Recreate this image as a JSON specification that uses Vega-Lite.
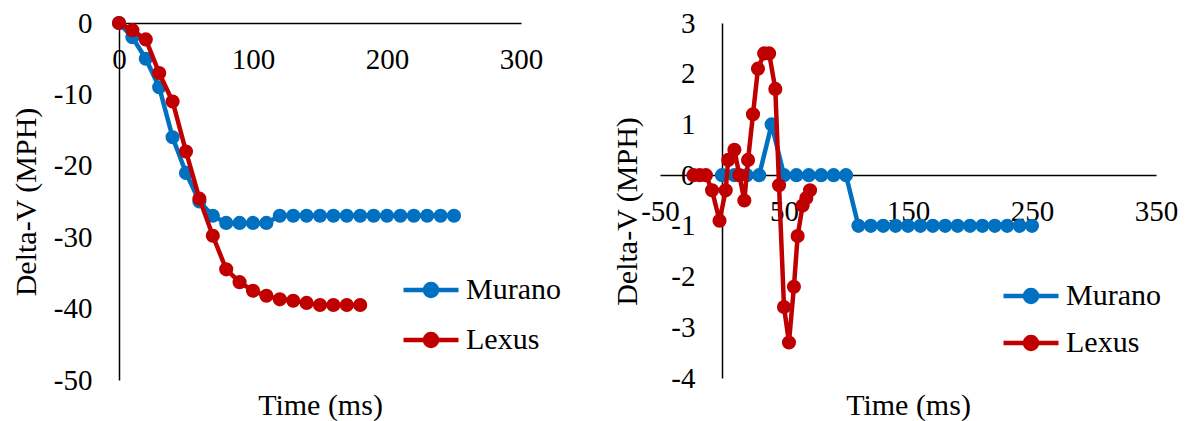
{
  "$schema": "https://vega.github.io/schema/vega-lite/v6.json",
  "background": "white",
  "padding": {"left": 11, "top": 9, "right": 5, "bottom": 5},
  "config": {
    "view": {"stroke": null},
    "font": "Liberation Serif",
    "axis": {
      "grid": false,
      "ticks": false,
      "domainColor": "#000000",
      "domainWidth": 1.5,
      "labelFont": "Liberation Serif",
      "labelFontSize": 29,
      "labelColor": "#000000",
      "labelExpr": "'' + datum.value",
      "titleFont": "Liberation Serif",
      "titleFontSize": 30,
      "titleFontWeight": "normal",
      "titleColor": "#000000",
      "labelOverlap": false,
      "labelFlush": false,
      "labelBound": false
    },
    "legend": {
      "labelFont": "Liberation Serif",
      "labelFontSize": 30,
      "labelColor": "#000000"
    }
  },
  "datasets": {
    "left": [
      {"series": "Murano", "t": 0, "v": 0},
      {"series": "Murano", "t": 10, "v": -2},
      {"series": "Murano", "t": 20, "v": -5},
      {"series": "Murano", "t": 30, "v": -9},
      {"series": "Murano", "t": 40, "v": -16},
      {"series": "Murano", "t": 50, "v": -21},
      {"series": "Murano", "t": 60, "v": -25},
      {"series": "Murano", "t": 70, "v": -27},
      {"series": "Murano", "t": 80, "v": -28},
      {"series": "Murano", "t": 90, "v": -28},
      {"series": "Murano", "t": 100, "v": -28},
      {"series": "Murano", "t": 110, "v": -28},
      {"series": "Murano", "t": 120, "v": -27},
      {"series": "Murano", "t": 130, "v": -27},
      {"series": "Murano", "t": 140, "v": -27},
      {"series": "Murano", "t": 150, "v": -27},
      {"series": "Murano", "t": 160, "v": -27},
      {"series": "Murano", "t": 170, "v": -27},
      {"series": "Murano", "t": 180, "v": -27},
      {"series": "Murano", "t": 190, "v": -27},
      {"series": "Murano", "t": 200, "v": -27},
      {"series": "Murano", "t": 210, "v": -27},
      {"series": "Murano", "t": 220, "v": -27},
      {"series": "Murano", "t": 230, "v": -27},
      {"series": "Murano", "t": 240, "v": -27},
      {"series": "Murano", "t": 250, "v": -27},
      {"series": "Lexus", "t": 0, "v": 0},
      {"series": "Lexus", "t": 10, "v": -1},
      {"series": "Lexus", "t": 20, "v": -2.3},
      {"series": "Lexus", "t": 30, "v": -7},
      {"series": "Lexus", "t": 40, "v": -11},
      {"series": "Lexus", "t": 50, "v": -18},
      {"series": "Lexus", "t": 60, "v": -24.6},
      {"series": "Lexus", "t": 70, "v": -29.8},
      {"series": "Lexus", "t": 80, "v": -34.5},
      {"series": "Lexus", "t": 90, "v": -36.3},
      {"series": "Lexus", "t": 100, "v": -37.5},
      {"series": "Lexus", "t": 110, "v": -38.2},
      {"series": "Lexus", "t": 120, "v": -38.7},
      {"series": "Lexus", "t": 130, "v": -38.9},
      {"series": "Lexus", "t": 140, "v": -39.2},
      {"series": "Lexus", "t": 150, "v": -39.5},
      {"series": "Lexus", "t": 160, "v": -39.5},
      {"series": "Lexus", "t": 170, "v": -39.5},
      {"series": "Lexus", "t": 180, "v": -39.5}
    ],
    "right": [
      {"series": "Murano", "t": 0, "v": 0},
      {"series": "Murano", "t": 10, "v": 0},
      {"series": "Murano", "t": 20, "v": 0},
      {"series": "Murano", "t": 30, "v": 0},
      {"series": "Murano", "t": 40, "v": 1},
      {"series": "Murano", "t": 50, "v": 0},
      {"series": "Murano", "t": 60, "v": 0},
      {"series": "Murano", "t": 70, "v": 0},
      {"series": "Murano", "t": 80, "v": 0},
      {"series": "Murano", "t": 90, "v": 0},
      {"series": "Murano", "t": 100, "v": 0},
      {"series": "Murano", "t": 110, "v": -1},
      {"series": "Murano", "t": 120, "v": -1},
      {"series": "Murano", "t": 130, "v": -1},
      {"series": "Murano", "t": 140, "v": -1},
      {"series": "Murano", "t": 150, "v": -1},
      {"series": "Murano", "t": 160, "v": -1},
      {"series": "Murano", "t": 170, "v": -1},
      {"series": "Murano", "t": 180, "v": -1},
      {"series": "Murano", "t": 190, "v": -1},
      {"series": "Murano", "t": 200, "v": -1},
      {"series": "Murano", "t": 210, "v": -1},
      {"series": "Murano", "t": 220, "v": -1},
      {"series": "Murano", "t": 230, "v": -1},
      {"series": "Murano", "t": 240, "v": -1},
      {"series": "Murano", "t": 250, "v": -1},
      {"series": "Lexus", "t": -23, "v": 0},
      {"series": "Lexus", "t": -18, "v": 0},
      {"series": "Lexus", "t": -13, "v": 0},
      {"series": "Lexus", "t": -8, "v": -0.3},
      {"series": "Lexus", "t": -2, "v": -0.9},
      {"series": "Lexus", "t": 3, "v": -0.3},
      {"series": "Lexus", "t": 5, "v": 0.3},
      {"series": "Lexus", "t": 10, "v": 0.5},
      {"series": "Lexus", "t": 14, "v": 0},
      {"series": "Lexus", "t": 18, "v": -0.5},
      {"series": "Lexus", "t": 21, "v": 0.3},
      {"series": "Lexus", "t": 25, "v": 1.2},
      {"series": "Lexus", "t": 29, "v": 2.1},
      {"series": "Lexus", "t": 34, "v": 2.4},
      {"series": "Lexus", "t": 38, "v": 2.4},
      {"series": "Lexus", "t": 43, "v": 1.7},
      {"series": "Lexus", "t": 46, "v": -0.2},
      {"series": "Lexus", "t": 50, "v": -2.6},
      {"series": "Lexus", "t": 54, "v": -3.3},
      {"series": "Lexus", "t": 58, "v": -2.2},
      {"series": "Lexus", "t": 61, "v": -1.2},
      {"series": "Lexus", "t": 65, "v": -0.6},
      {"series": "Lexus", "t": 68, "v": -0.45},
      {"series": "Lexus", "t": 71, "v": -0.3}
    ]
  },
  "bounds": "flush",
  "spacing": 139,
  "resolve": {
    "scale": {"x": "independent", "y": "independent", "color": "shared"},
    "axis": {"x": "independent", "y": "independent"},
    "legend": {"color": "independent"}
  },
  "hconcat": [
    {
      "width": 402,
      "height": 357,
      "data": {"name": "left"},
      "encoding": {
        "x": {
          "field": "t", "type": "quantitative",
          "scale": {"domain": [0, 300], "nice": false, "zero": false},
          "axis": {"values": [0, 100, 200, 300], "offset": -357, "labelPadding": 22, "title": "Time (ms)", "titleY": 382, "titleBaseline": "middle"}
        },
        "y": {
          "field": "v", "type": "quantitative",
          "scale": {"domain": [-50, 0], "nice": false},
          "axis": {"values": [-50, -40, -30, -20, -10, 0], "labelPadding": 27, "title": "Delta-V (MPH)", "titleX": -93, "titleBaseline": "middle"}
        },
        "color": {
          "field": "series", "type": "nominal",
          "scale": {"domain": ["Murano", "Lexus"], "range": ["#0070C0", "#C00000"]},
          "legend": {
            "title": null, "orient": "none", "legendX": 282, "legendY": 237,
            "symbolType": "M-1,0H1M-0.22,0A0.22,0.22,0,1,1,0.22,0A0.22,0.22,0,1,1,-0.22,0Z",
            "symbolSize": 3025, "symbolStrokeWidth": 4.5, "labelOffset": 5, "rowPadding": 4,
            "encode": {"symbols": {"update": {"fill": {"scale": "color", "field": "value"}, "stroke": {"scale": "color", "field": "value"}}}}
          }
        }
      },
      "layer": [
        {"transform": [{"filter": "datum.series === 'Murano'"}], "mark": {"type": "line", "strokeWidth": 4.5, "point": {"filled": true, "size": 200, "opacity": 1}}},
        {"transform": [{"filter": "datum.series === 'Lexus'"}], "mark": {"type": "line", "strokeWidth": 4.5, "point": {"filled": true, "size": 200, "opacity": 1}}}
      ]
    },
    {
      "width": 496,
      "height": 355,
      "data": {"name": "right"},
      "encoding": {
        "x": {
          "field": "t", "type": "quantitative",
          "scale": {"domain": [-50, 350], "nice": false, "zero": false},
          "axis": {"values": [-50, 50, 150, 250, 350], "offset": -202.9, "labelPadding": 22, "title": "Time (ms)", "titleY": 229.9, "titleBaseline": "middle"}
        },
        "y": {
          "field": "v", "type": "quantitative",
          "scale": {"domain": [-4, 3], "nice": false},
          "axis": {"values": [-4, -3, -2, -1, 0, 1, 2, 3], "offset": -62, "labelPadding": 27, "title": "Delta-V (MPH)", "titleX": -95, "titleY": 188, "titleBaseline": "middle"}
        },
        "color": {
          "field": "series", "type": "nominal",
          "scale": {"domain": ["Murano", "Lexus"], "range": ["#0070C0", "#C00000"]},
          "legend": {
            "title": null, "orient": "none", "legendX": 341, "legendY": 243,
            "symbolType": "M-1,0H1M-0.22,0A0.22,0.22,0,1,1,0.22,0A0.22,0.22,0,1,1,-0.22,0Z",
            "symbolSize": 3025, "symbolStrokeWidth": 4.5, "labelOffset": 5, "rowPadding": 1,
            "encode": {"symbols": {"update": {"fill": {"scale": "color", "field": "value"}, "stroke": {"scale": "color", "field": "value"}}}}
          }
        }
      },
      "layer": [
        {"transform": [{"filter": "datum.series === 'Murano'"}], "mark": {"type": "line", "strokeWidth": 4.5, "point": {"filled": true, "size": 200, "opacity": 1}}},
        {"transform": [{"filter": "datum.series === 'Lexus'"}], "mark": {"type": "line", "strokeWidth": 4.5, "point": {"filled": true, "size": 200, "opacity": 1}}}
      ]
    }
  ]
}
